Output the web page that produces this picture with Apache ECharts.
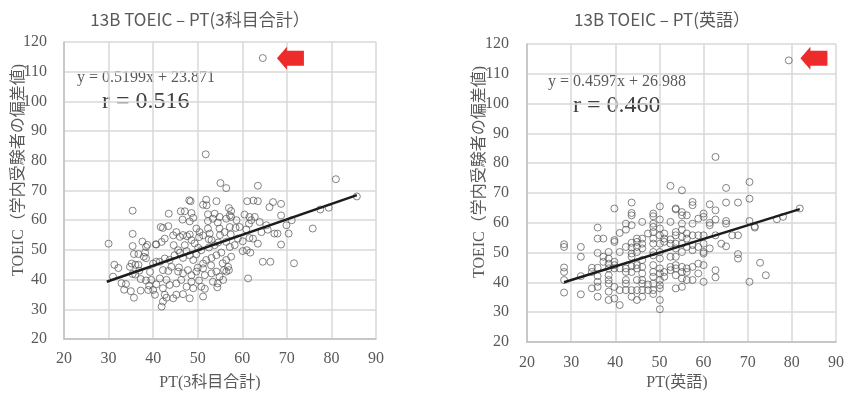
<!DOCTYPE html>
<html>
<head>
<meta charset="utf-8">
<script src="https://cdn.jsdelivr.net/npm/echarts@6/dist/echarts.min.js"></script>
<style>html,body{margin:0;padding:0;background:#fff;}#c{width:847px;height:393px;}</style>
</head>
<body>
<div id="c"></div>
<script>
// ---- Data ----
const titles = ['13B TOEIC – PT(3科目合計）', '13B TOEIC – PT(英語）'];
const xNames = ['PT(3科目合計)', 'PT(英語)'];
const yName = 'TOEIC（学内受験者の偏差値)';
const equations = ['y = 0.5199x + 23.871', 'y = 0.4597x + 26.988'];
const rTexts = ['r = 0.516', 'r = 0.460'];
const xTicks = [20, 90, 10];
const yTicks = [20, 120, 10];

// Left: TOEIC vs PT(3科目合計)
const ptTotal = [
[30.0,52.1],[31.3,45.0],[32.2,43.9],[31.0,41.0],[32.9,38.8],[33.5,36.6],[35.4,63.2],[35.4,55.4],[35.4,51.3],[35.2,45.4],
[35.4,41.9],[35.0,36.1],[35.7,33.9],[35.7,48.6],[36.7,48.6],[36.0,45.0],[36.7,45.0],[36.0,41.7],[37.2,40.2],[37.2,36.3],
[37.6,52.8],[38.7,51.7],[38.4,51.0],[38.2,49.1],[38.4,47.2],[36.9,43.0],[38.4,39.7],[39.1,38.0],[34.8,44.3],[38.9,36.5],
[39.3,42.6],[37.9,47.7],[33.9,38.5],
[55.1,72.5],[56.4,70.8],[48.4,66.4],[51.2,65.2],[52.0,65.0],[54.2,66.4],[43.5,62.2],[47.1,63.0],[48.6,62.4],[48.2,59.6],
[46.6,60.2],[42.2,57.4],[43.4,58.0],[52.3,62.0],[53.8,62.2],[54.9,61.1],[57.0,64.1],[57.5,63.1],[57.2,61.6],[52.3,59.7],
[53.4,60.5],[54.5,59.2],[56.4,60.5],[57.5,61.1],[58.7,60.0],[60.5,61.9],[61.6,61.1],[59.4,57.7],[60.9,56.9],[61.5,58.8],
[51.2,54.9],[52.3,57.2],[52.7,55.5],[54.9,57.2],[56.0,56.0],[57.2,57.7],[49.7,57.2],[50.4,56.0],[46.0,54.4],[46.7,55.0],
[47.6,54.6],[48.2,55.2],[48.6,53.3],[44.5,54.9],[45.2,56.0],[40.7,51.8],[41.9,52.7],[42.6,53.8],[44.6,51.6],[45.6,49.9],
[47.1,51.6],[47.5,49.6],[49.3,52.2],[50.1,50.7],[50.8,49.9],[53.1,53.3],[53.8,51.6],[54.6,52.5],[56.4,52.7],[57.2,51.0],
[58.3,51.6],[59.0,53.8],[60.1,52.9],[61.6,54.0],[60.1,49.6],[61.0,49.9],[61.8,49.1],[40.0,45.4],[40.7,46.0],[41.5,46.0],
[42.6,47.1],[43.7,46.6],[44.8,48.2],[46.0,49.1],[46.7,47.3],[48.2,48.2],[49.0,46.6],[49.7,48.5],[51.2,45.4],[51.9,46.6],
[53.1,47.3],[54.2,48.2],[55.3,49.1],[56.4,46.6],[57.5,47.7],[42.2,43.2],[43.4,42.9],[44.1,44.3],[45.6,42.7],[46.7,42.1],
[47.8,43.2],[48.6,41.5],[49.7,42.7],[51.2,43.8],[51.6,41.5],[53.1,42.1],[54.2,42.7],[54.9,41.0],[56.4,42.7],[56.8,44.3],
[61.3,40.4],[39.6,39.9],[40.7,38.4],[41.5,40.4],[43.0,39.9],[43.7,38.2],[45.2,38.7],[46.3,39.9],[47.5,37.6],[48.6,39.3],
[49.0,37.1],[50.8,37.6],[51.6,36.9],[53.4,39.3],[54.5,38.7],[55.7,39.9],[40.0,36.5],[40.4,34.9],[42.2,37.1],[42.6,34.9],
[43.0,33.9],[44.5,33.7],[45.2,34.9],[46.7,35.1],[48.2,33.7],[51.2,34.3],[41.9,30.9],[42.2,32.6],
[57.0,43.2],[55.6,45.5],[53.0,44.8],[50.3,39.7],[52.5,50.8],[55.0,55.0],[49.0,60.8],[58.5,57.4],[57.4,55.2],[50.0,44.0],
[40.6,51.9],[41.7,57.7],[51.9,66.9],[48.1,66.7],[46.2,63.0],[54.4,37.4],[55.9,43.2],[45.8,44.1],[52.5,53.6],[50.3,54.3],
[51.8,82.2],[61.1,66.4],
[62.4,53.8],[62.8,61.1],[63.5,66.4],[63.5,52.1],[63.9,59.4],[64.3,56.0],[64.6,46.0],[65.4,58.3],[65.7,56.8],[66.1,64.4],
[66.3,46.0],[66.9,66.1],[67.2,55.5],[67.9,55.5],[68.7,65.5],[68.7,61.6],[68.7,51.8],[69.9,58.3],[70.4,55.5],[71.1,60.0],
[71.6,45.5],[75.8,57.2],[77.5,63.6],[79.4,64.2],[81.0,73.8],[85.7,68.0],[62.0,60.0],[62.5,66.6],[63.5,71.6],[64.6,114.6]
];
const trendTotal = [[29.6, 39.26], [85.7, 68.43]];

// Right: TOEIC vs PT(英語)
const ptEnglish = [
[28.4,52.8],[28.4,51.9],[28.4,45.0],[28.4,43.5],[28.4,40.8],[28.4,36.6],
[32.2,51.9],[32.2,48.6],[32.2,42.1],[32.2,36.0],
[34.7,44.9],[34.7,43.5],[34.7,38.0],
[36.0,58.4],[36.0,54.7],[36.0,49.9],[36.0,44.9],[36.0,42.1],[36.0,40.2],[36.0,38.5],[36.0,35.2],
[37.3,54.7],[37.3,48.6],[37.3,46.9],
[38.5,50.2],[38.5,48.0],[38.5,46.3],[38.5,44.7],[38.5,42.4],[38.5,40.8],[38.5,39.6],[38.5,36.9],[38.5,34.1],
[39.8,64.8],[39.8,54.2],[39.8,53.6],[39.8,46.9],[39.8,45.8],[39.8,44.7],[39.8,38.5],[39.8,34.6],
[41.0,56.6],[41.0,50.2],[41.0,44.7],[41.0,37.4],[41.0,32.4],
[42.4,59.7],[42.4,57.7],[42.4,51.9],[42.4,44.7],[42.4,43.5],[42.4,40.8],[42.4,39.6],[42.4,37.4],
[43.7,66.8],[43.7,63.3],[43.7,62.5],[43.7,59.2],[43.7,53.3],[43.7,51.7],[43.7,49.7],[43.7,48.6],[43.7,45.4],[43.7,43.5],[43.7,37.4],[43.7,35.2],
[44.9,54.7],[44.9,53.6],[44.9,51.9],[44.9,50.2],[44.9,45.8],[44.9,44.7],[44.9,40.8],[44.9,37.4],[44.9,34.1],
[46.1,60.3],[46.1,54.7],[46.1,53.0],[46.1,51.4],[46.1,47.5],[46.1,45.2],[46.1,43.0],[46.1,40.8],[46.1,39.6],[46.1,37.4],[46.1,35.2],
[47.4,56.4],[47.4,39.3],[47.4,37.4],
[48.6,63.1],[48.6,62.2],[48.6,59.7],[48.6,58.6],[48.6,56.9],[48.6,54.7],[48.6,53.0],[48.6,50.2],[48.6,49.1],[48.6,45.8],[48.6,43.5],[48.6,41.9],[48.6,39.6],[48.6,37.4],[48.6,36.1],
[50.1,65.5],[50.1,61.1],[50.1,58.1],[50.1,55.8],[50.1,53.0],[50.1,50.2],[50.1,48.0],[50.1,44.7],[50.1,43.0],[50.1,40.8],[50.1,39.1],[50.1,38.0],[50.1,34.1],[50.1,31.0],
[51.1,56.4],[51.1,54.7],[51.1,53.6],[51.1,43.5],[51.1,41.9],
[52.5,72.4],[52.5,60.3],[52.5,54.4],[52.5,53.0],[52.5,48.6],[52.5,45.2],[52.5,44.1],
[53.7,64.8],[53.7,64.5],[53.7,56.9],[53.7,55.8],[53.7,53.0],[53.7,51.4],[53.7,48.6],[53.7,45.8],[53.7,44.7],[53.7,42.4],[53.7,38.0],
[55.1,70.9],[55.1,63.6],[55.1,62.5],[55.1,59.7],[55.1,57.7],[55.1,55.3],[55.1,53.0],[55.1,50.2],[55.1,45.2],[55.1,43.5],[55.1,41.3],[55.1,38.5],
[56.2,62.5],[56.2,56.4],[56.2,54.7],[56.2,51.9],[56.2,44.7],[56.2,43.5],[56.2,40.8],
[57.5,67.0],[57.5,65.9],[57.5,59.7],[57.5,55.8],[57.5,52.5],[57.5,50.8],[57.5,45.2],[57.5,40.8],
[58.8,61.4],[58.8,55.8],[58.8,51.9],[58.8,46.3],[58.8,43.0],
[60.0,63.1],[60.0,62.0],[60.0,55.8],[60.0,53.0],[60.0,50.2],[60.0,49.7],[60.0,45.8],[60.0,40.2],
[61.4,66.2],[61.4,60.0],[61.4,59.2],[61.4,51.4],
[62.7,82.1],[62.7,64.2],[62.7,61.1],[62.7,55.8],[62.7,44.1],[62.7,41.7],
[64.0,53.0],
[65.1,71.7],[65.1,66.8],[65.1,60.6],[65.1,59.7],[65.1,52.1],
[66.5,55.8],
[67.8,66.8],[67.8,55.8],[67.8,49.5],[67.8,48.0],
[70.4,73.7],[70.4,68.1],[70.4,60.6],[70.4,40.2],
[71.6,58.8],[71.6,58.4],
[72.8,46.6],[74.1,42.4],[76.6,61.2],[78.0,62.0],[81.8,64.8],[79.3,114.5]
];
const trendEnglish = [[28.4, 40.04], [81.8, 64.59]];

// Arrow annotation positions (data coords)
const arrowPos = [[70.8, 114.5], [85.0, 115.2]];

// ---- Chart ----
const serif = "'Liberation Serif', 'Noto Sans CJK JP', serif";
const sans = "'Noto Sans CJK JP', 'Noto Sans', sans-serif";
const grey = '#595959';
const arrowPath = 'path://M0,11.5L10,0L10,4L27,4L27,19L10,19L10,23Z';

function axisX(gi, margin) {
  return {
    type: 'value', gridIndex: gi, min: xTicks[0], max: xTicks[1], interval: xTicks[2],
    axisLine: { show: true, lineStyle: { color: '#bfbfbf', width: 1.5 } },
    axisTick: { show: false },
    splitLine: { show: true, lineStyle: { color: '#d9d9d9', width: 1.5 } },
    axisLabel: { color: grey, fontFamily: serif, fontSize: 16, margin: margin }
  };
}
function axisY(gi, margin) {
  return {
    type: 'value', gridIndex: gi, min: yTicks[0], max: yTicks[1], interval: yTicks[2],
    axisLine: { show: true, lineStyle: { color: '#bfbfbf', width: 1.5 } },
    axisTick: { show: false },
    splitLine: { show: true, lineStyle: { color: '#d9d9d9', width: 1.5 } },
    axisLabel: { color: grey, fontFamily: serif, fontSize: 16, margin: margin }
  };
}
function scatter(gi, data, arrow) {
  return {
    type: 'scatter', xAxisIndex: gi, yAxisIndex: gi, data: data,
    symbol: 'circle', symbolSize: 7, silent: true,
    itemStyle: { color: 'rgba(255,255,255,0)', borderColor: '#555555', borderWidth: 0.9 },
    markPoint: {
      silent: true, symbol: arrowPath, symbolSize: [27, 23],
      itemStyle: { color: '#ee2b2b' }, label: { show: false },
      data: [{ coord: arrow }]
    }
  };
}
function trend(gi, data) {
  return {
    type: 'line', xAxisIndex: gi, yAxisIndex: gi, data: data, symbol: 'none', silent: true,
    lineStyle: { color: '#1c1c1c', width: 2.5 }, z: 3
  };
}
function txt(x, y, text, font, size, color, extra) {
  return Object.assign({
    type: 'text', x: x, y: y, silent: true,
    style: { text: text, fontFamily: font, fontSize: size, fill: color, textAlign: 'left', textVerticalAlign: 'middle' }
  }, extra || {});
}

const chart = echarts.init(document.getElementById('c'), null, { renderer: 'canvas' });
chart.setOption({
  animation: false,
  backgroundColor: '#ffffff',
  grid: [
    { left: 64, top: 42, width: 312, height: 297 },
    { left: 527, top: 44, width: 312, height: 298 }
  ],
  xAxis: [axisX(0, 12), axisX(1, 13)],
  yAxis: [axisY(0, 17), axisY(1, 18)],
  series: [
    scatter(0, ptTotal, arrowPos[0]), trend(0, trendTotal),
    scatter(1, ptEnglish, arrowPos[1]), trend(1, trendEnglish)
  ],
  graphic: [
    { type: 'text', x: 200, y: 20, silent: true, style: { text: titles[0], fontFamily: sans, fontSize: 17, fill: grey, textAlign: 'center', textVerticalAlign: 'middle' } },
    { type: 'text', x: 662, y: 20, silent: true, style: { text: titles[1], fontFamily: sans, fontSize: 17, fill: grey, textAlign: 'center', textVerticalAlign: 'middle' } },
    { type: 'text', x: 210, y: 383, silent: true, style: { text: xNames[0], fontFamily: serif, fontSize: 16, fill: grey, textAlign: 'center', textVerticalAlign: 'middle' } },
    { type: 'text', x: 677, y: 383, silent: true, style: { text: xNames[1], fontFamily: serif, fontSize: 16, fill: grey, textAlign: 'center', textVerticalAlign: 'middle' } },
    { type: 'text', x: 19, y: 170, rotation: Math.PI / 2, silent: true, style: { text: yName, fontFamily: serif, fontSize: 16, fill: grey, textAlign: 'center', textVerticalAlign: 'middle' } },
    { type: 'text', x: 480, y: 172, rotation: Math.PI / 2, silent: true, style: { text: yName, fontFamily: serif, fontSize: 16, fill: grey, textAlign: 'center', textVerticalAlign: 'middle' } },
    txt(77, 78, equations[0], serif, 16, grey),
    txt(102, 102, rTexts[0], serif, 24, '#404040'),
    txt(548, 82, equations[1], serif, 16, grey),
    txt(573, 106, rTexts[1], serif, 24, '#404040')
  ]
});
</script>
</body>
</html>
